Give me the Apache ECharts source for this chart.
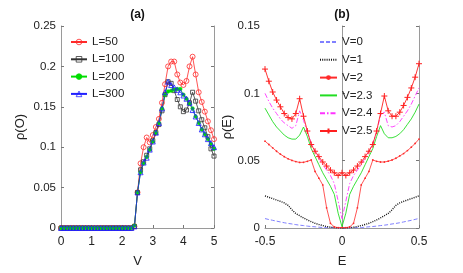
<!DOCTYPE html>
<html><head><meta charset="utf-8">
<script src="https://cdn.jsdelivr.net/npm/echarts@6/dist/echarts.min.js"></script>
<style>html,body{margin:0;padding:0;background:#fff}#c{width:463px;height:273px}</style>
</head><body><div id="c"></div><script>
// ---- Panel (a) data ----
const V = [0,0.1,0.2,0.3,0.4,0.5,0.6,0.7,0.8,0.9,1.0,1.1,1.2,1.3,1.4,1.5,1.6,1.7,1.8,1.9,2.0,2.1,2.2,2.3,2.4,2.5,2.6,2.7,2.8,2.9,3.0,3.1,3.2,3.3,3.4,3.5,3.6,3.7,3.8,3.9,4.0,4.1,4.2,4.3,4.4,4.5,4.6,4.7,4.8,4.9,5.0];
const L50 = [0,0,0,0,0,0,0,0,0,0,0,0,0,0,0,0,0,0,0,0,0,0,0,0,0.002,0.044,0.080,0.100,0.112,0.106,0.115,0.125,0.135,0.155,0.178,0.200,0.206,0.206,0.190,0.180,0.177,0.182,0.200,0.212,0.190,0.168,0.156,0.144,0.132,0.121,0.110];
const L100 = [0,0,0,0,0,0,0,0,0,0,0,0,0,0,0,0,0,0,0,0,0,0,0,0,0.002,0.044,0.072,0.082,0.090,0.098,0.108,0.118,0.128,0.145,0.165,0.181,0.179,0.170,0.159,0.150,0.144,0.146,0.155,0.168,0.157,0.145,0.134,0.124,0.113,0.098,0.089];
const L200 = [0,0,0,0,0,0,0,0,0,0,0,0,0,0,0,0,0,0,0,0,0,0,0,0,0.003,0.044,0.069,0.080,0.088,0.097,0.107,0.118,0.130,0.148,0.165,0.169,0.170,0.171,0.172,0.172,0.165,0.160,0.154,0.148,0.138,0.130,0.122,0.116,0.110,0.104,0.098];
const L300 = [0,0,0,0,0,0,0,0,0,0,0,0,0,0,0,0,0,0,0,0,0,0,0,0,0.002,0.044,0.069,0.081,0.087,0.097,0.107,0.118,0.130,0.148,0.168,0.181,0.177,0.174,0.171,0.168,0.164,0.160,0.155,0.146,0.138,0.130,0.122,0.116,0.110,0.105,0.100];
const xTicksA = [0,1,2,3,4,5];
const yTicksA = [0,0.05,0.1,0.15,0.2,0.25];

// ---- Panel (b) data ----
const E = [-0.5,-0.475,-0.45,-0.425,-0.4,-0.375,-0.35,-0.325,-0.3,-0.275,-0.25,-0.225,-0.2,-0.175,-0.15,-0.125,-0.1,-0.075,-0.05,-0.025,0,0.025,0.05,0.075,0.1,0.125,0.15,0.175,0.2,0.225,0.25,0.275,0.3,0.325,0.35,0.375,0.4,0.425,0.45,0.475,0.5];
const V0 = [0.0070,0.0063,0.0057,0.0051,0.0045,0.0039,0.0034,0.0030,0.0025,0.0021,0.0018,0.0014,0.0011,0.0009,0.0006,0.0004,0.0003,0.0002,0.0001,0.0000,0.0000,0.0000,0.0001,0.0002,0.0003,0.0004,0.0006,0.0009,0.0011,0.0014,0.0018,0.0021,0.0025,0.0030,0.0034,0.0039,0.0045,0.0051,0.0057,0.0064,0.0071];
const V1 = [0.0238,0.0228,0.0218,0.0208,0.0198,0.0186,0.0168,0.0135,0.0108,0.0091,0.0075,0.0060,0.0047,0.0035,0.0026,0.0018,0.0011,0.0006,0.0003,0.0001,0.0000,0.0001,0.0003,0.0006,0.0011,0.0018,0.0026,0.0035,0.0047,0.0060,0.0075,0.0091,0.0108,0.0135,0.0168,0.0186,0.0198,0.0208,0.0218,0.0228,0.0239];
const V2 = [0.0645,0.0620,0.0595,0.0570,0.0548,0.0530,0.0514,0.0502,0.0493,0.0487,0.0488,0.0495,0.0505,0.0420,0.0370,0.0320,0.0150,0.0035,0.0008,0.0003,0.0003,0.0003,0.0008,0.0035,0.0150,0.0320,0.0370,0.0420,0.0505,0.0495,0.0490,0.0490,0.0496,0.0505,0.0518,0.0535,0.0553,0.0575,0.0600,0.0628,0.0660];
const V23 = [0.089,0.084,0.079,0.075,0.072,0.069,0.067,0.066,0.066,0.069,0.075,0.068,0.059,0.053,0.047,0.041,0.036,0.031,0.025,0.011,0.001,0.011,0.025,0.031,0.036,0.041,0.047,0.053,0.059,0.068,0.076,0.070,0.067,0.067,0.068,0.070,0.073,0.077,0.081,0.086,0.092];
const V24 = [0.100,0.094,0.089,0.085,0.081,0.078,0.076,0.074,0.076,0.087,0.080,0.071,0.063,0.057,0.052,0.047,0.043,0.039,0.033,0.020,0.007,0.020,0.033,0.039,0.043,0.047,0.052,0.057,0.063,0.071,0.084,0.086,0.076,0.075,0.076,0.079,0.083,0.087,0.092,0.098,0.104];
const V25 = [0.118,0.109,0.101,0.095,0.090,0.085,0.082,0.081,0.085,0.096,0.083,0.072,0.062,0.057,0.053,0.049,0.046,0.043,0.041,0.039,0.041,0.039,0.041,0.043,0.046,0.049,0.053,0.057,0.062,0.072,0.085,0.098,0.087,0.083,0.083,0.086,0.091,0.097,0.104,0.112,0.122];
const xTicksB = [-0.5,0,0.5];
const yTicksB = [0,0.05,0.1,0.15];

const FONT = 'Liberation Sans';
const AX = '#9a9a9a';
const chart = echarts.init(document.getElementById('c'), null, {renderer:'canvas'});

function xAx(gi, min, max, interval, name, show) {
  return {type:'value', gridIndex:gi, min, max, interval, position:'bottom',
    name: show ? name : '', nameLocation:'middle', nameGap:27,
    nameTextStyle:{fontFamily:FONT, fontSize:13, color:'#222'},
    axisLine:{show:true, lineStyle:{color:AX, width:1}},
    axisTick:{show:true, inside:true, length:3, lineStyle:{color:'#777'}},
    axisLabel:{show:show, fontFamily:FONT, fontSize:12, color:'#222', margin:8},
    splitLine:{show:false}};
}
function yAx(gi, min, max, interval, name, right, gap) {
  return {type:'value', gridIndex:gi, min, max, interval, position: right ? 'right' : 'left',
    name: right ? '' : name, nameLocation:'middle', nameGap:gap, nameRotate:90,
    nameTextStyle:{fontFamily:FONT, fontSize:13, color:'#222'},
    axisLine:{show:true, lineStyle:{color:AX, width:1}},
    axisTick:{show:true, inside:true, length:3, lineStyle:{color:'#777'}},
    axisLabel:{show:!right, fontFamily:FONT, fontSize:11.5, color:'#222', margin:5},
    splitLine:{show:false}};
}
const pair = (xs, ys) => xs.map((x,i)=>[x, ys[i]]);
const plusPath = 'path://M5,0L5,10M0,5L10,5';
const hidden = {color:'rgba(255,255,255,0)', borderWidth:0, borderColor:'rgba(255,255,255,0)'};

const option = {
  animation:false,
  backgroundColor:'#fff',
  textStyle:{fontFamily:FONT},
  grid:[
    {left:61, right:249, top:26, bottom:44},
    {left:265, right:44, top:26, bottom:44}
  ],
  xAxis:[
    xAx(0, 0, 5, 1, 'V', true),
    xAx(1, -0.5, 0.5, 0.5, 'E', true)
  ],
  yAxis:[
    yAx(0, 0, 0.25, 0.05, 'ρ(O)', false, 34),
    yAx(0, 0, 0.25, 0.05, '', true, 0),
    yAx(1, 0, 0.15, 0.05, 'ρ(E)', false, 27),
    yAx(1, 0, 0.15, 0.05, '', true, 0)
  ],
  graphic:[
    {type:'text', x:137.5, y:15, style:{text:'(a)', align:'center', verticalAlign:'middle', textAlign:'center', textVerticalAlign:'middle', fontFamily:FONT, fontSize:12, fontWeight:'bold', fill:'#111'}},
    {type:'text', x:342, y:15, style:{text:'(b)', align:'center', verticalAlign:'middle', textAlign:'center', textVerticalAlign:'middle', fontFamily:FONT, fontSize:12, fontWeight:'bold', fill:'#111'}}
  ],
  legend:[
    {data:['L=50','L=100','L=200','L=300'], orient:'vertical', left:70, top:36, padding:0,
     itemWidth:16, itemHeight:7, itemGap:5.3, itemStyle:{borderWidth:0.8},
     textStyle:{fontFamily:FONT, fontSize:11.5, color:'#222', lineHeight:12}},
    {data:['V=0','V=1','V=2','V=2.3','V=2.4','V=2.5'],
     orient:'vertical', left:319, top:36, padding:0,
     itemWidth:17, itemHeight:6, itemGap:5.8,
     textStyle:{fontFamily:FONT, fontSize:11.5, color:'#222', lineHeight:12}}
  ],
  series:[
    {type:'line', name:'L=50', xAxisIndex:0, yAxisIndex:0, data:pair(V,L50),
     symbol:'circle', symbolSize:5, lineStyle:{color:'#ff2a2a', width:0.8},
     itemStyle:{color:'rgba(255,255,255,0)', borderColor:'#ff2a2a', borderWidth:0.8}},
    {type:'line', name:'L=100', xAxisIndex:0, yAxisIndex:0, data:pair(V,L100),
     symbol:'rect', symbolSize:4, lineStyle:{color:'#333', width:0.8},
     itemStyle:{color:'rgba(255,255,255,0)', borderColor:'#333', borderWidth:0.8}},
    {type:'line', name:'L=200', xAxisIndex:0, yAxisIndex:0, data:pair(V,L200),
     symbol:'circle', symbolSize:3.5, lineStyle:{color:'#00dd00', width:0.8},
     itemStyle:{color:'#00dd00', borderColor:'#00dd00', borderWidth:0.6}},
    {type:'line', name:'L=300', xAxisIndex:0, yAxisIndex:0, data:pair(V,L300),
     symbol:'triangle', symbolSize:5, lineStyle:{color:'#2020ff', width:0.8},
     itemStyle:{color:'rgba(255,255,255,0)', borderColor:'#2020ff', borderWidth:0.8}},

    {type:'line', name:'V=0', xAxisIndex:1, yAxisIndex:2, data:pair(E,V0),
     symbol:'circle', showSymbol:false, lineStyle:{color:'#8080ff', width:1, type:[4,2]}, itemStyle:hidden},
    {type:'line', name:'V=1', xAxisIndex:1, yAxisIndex:2, data:pair(E,V1),
     symbol:'circle', showSymbol:false, lineStyle:{color:'#111', width:1.4, type:[1,1.2]}, itemStyle:hidden},
    {type:'line', name:'V=2', xAxisIndex:1, yAxisIndex:2, data:pair(E,V2),
     symbol:'circle', symbolSize:1.8, lineStyle:{color:'#ff2a2a', width:0.8}, itemStyle:{color:'#ff2a2a'}},
    {type:'line', name:'V=2.3', xAxisIndex:1, yAxisIndex:2, data:pair(E,V23),
     symbol:'circle', showSymbol:false, lineStyle:{color:'#22dd22', width:0.9}, itemStyle:hidden},
    {type:'line', name:'V=2.4', xAxisIndex:1, yAxisIndex:2, data:pair(E,V24),
     symbol:'circle', showSymbol:false, lineStyle:{color:'#ff33ff', width:0.9, type:[5,2,1.5,2]}, itemStyle:hidden},
    {type:'line', name:'V=2.5', xAxisIndex:1, yAxisIndex:2, data:pair(E,V25),
     symbol:plusPath, symbolSize:6, lineStyle:{color:'#ff2020', width:0.9},
     itemStyle:{color:'rgba(255,255,255,0)', borderColor:'#ff2020', borderWidth:1}}
  ]
};
chart.setOption(option);
</script></body></html>
